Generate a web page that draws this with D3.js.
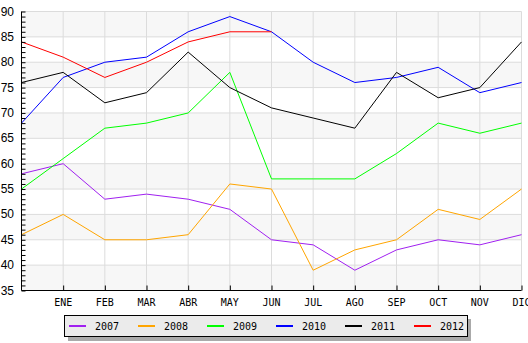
<!DOCTYPE html>
<html><head><meta charset="utf-8">
<script src="https://cdn.jsdelivr.net/npm/d3@7"></script>
<style>body{margin:0;background:#fff}svg{display:block}</style>
</head><body>
<script>
const categories = ["", "ENE","FEB","MAR","ABR","MAY","JUN","JUL","AGO","SEP","OCT","NOV","DIC"];
const years = ["2007","2008","2009","2010","2011","2012"];
const colors = ["#a020f0","#ffa500","#00ff00","#0000ff","#000000","#ff0000"];
const s2007 = [58,60,53,54,53,51,45,44,39,43,45,44,46];
const s2008 = [46,50,45,45,46,56,55,39,43,45,51,49,55];
const s2009 = [55,61,67,68,70,78,57,57,57,62,68,66,68];
const s2010 = [68,77,80,81,86,89,86,80,76,77,79,74,76];
const s2011 = [76,78,72,74,82,75,71,69,67,78,73,75,84];
const s2012 = [84,81,77,80,84,86,86,null,null,null,null,null,null];
const series = [s2007,s2008,s2009,s2010,s2011,s2012];
const yTicks = [35,40,45,50,55,60,65,70,75,80,85,90];

const W=528,H=343;
const svg=d3.select("body").append("svg").attr("width",W).attr("height",H);
const x=d3.scalePoint().domain(d3.range(categories.length)).range([21.5,521.5]);
const y=d3.scaleLinear().domain([35,90]).range([290.5,11.5]);

// bands
const g=svg.append("g");
for(let i=0;i<yTicks.length-1;i++){
  const lo=yTicks[i],hi=yTicks[i+1];
  if(i%2===0){
    g.append("rect").attr("x",21.5).attr("y",y(hi)).attr("width",500).attr("height",y(lo)-y(hi)).attr("fill","#f7f7f7");
  }
}
// gridlines
g.selectAll(".hg").data(yTicks).join("line")
 .attr("x1",21.5).attr("x2",521.5).attr("y1",d=>y(d)).attr("y2",d=>y(d))
 .attr("stroke","#dcdcdc").attr("stroke-width",1);
g.selectAll(".vg").data(d3.range(1,categories.length)).join("line")
 .attr("x1",d=>x(d)).attr("x2",d=>x(d)).attr("y1",y(90)).attr("y2",y(35))
 .attr("stroke","#dcdcdc").attr("stroke-width",1);

// lines
const line=d3.line().defined(d=>d!=null).x((d,i)=>x(i)).y(d=>y(d));
series.forEach((s,k)=>{
  svg.append("path").datum(s).attr("d",line).attr("fill","none")
   .attr("stroke",colors[k]).attr("stroke-width",1);
});

// y axis
const yAxis=d3.axisRight(y).tickValues(d3.range(35,91,1)).tickSize(4).tickFormat("");
const ya=svg.append("g").attr("transform","translate(21.5,0)").call(yAxis);
ya.select(".domain").attr("stroke","#000").attr("d","M0,"+y(90)+"V"+y(35));
ya.selectAll(".tick line").attr("stroke","#000");
svg.selectAll(".ylab").data(yTicks).join("text")
 .attr("x",14).attr("y",d=>y(d)+4).attr("text-anchor","end")
 .attr("font-family","Liberation Sans, Arial, sans-serif").attr("font-size",12)
 .text(d=>d);

// x axis
const xAxis=d3.axisTop(x).tickValues(d3.range(1,categories.length)).tickSize(5).tickFormat("");
const xa=svg.append("g").attr("transform","translate(0,290.5)").call(xAxis);
xa.select(".domain").attr("stroke","#000").attr("d","M21.5,0H521.5");
xa.selectAll(".tick line").attr("stroke","#000");
svg.selectAll(".xlab").data(d3.range(1,categories.length)).join("text")
 .attr("x",d=>x(d)).attr("y",306).attr("text-anchor","middle")
 .attr("font-family","DejaVu Sans Mono, monospace").attr("font-size",10)
 .text(d=>categories[d]);

// legend
const lg=svg.append("g");
lg.append("rect").attr("x",68).attr("y",319).attr("width",403).attr("height",22).attr("fill","#aaaaaa");
lg.append("rect").attr("x",64.5).attr("y",315.5).attr("width",403).attr("height",21).attr("fill","#ebebeb").attr("stroke","#000");
years.forEach((yr,k)=>{
  const lx=69+k*69;
  lg.append("line").attr("x1",lx).attr("x2",lx+17).attr("y1",326).attr("y2",326).attr("stroke",colors[k]).attr("stroke-width",2);
  lg.append("text").attr("x",lx+26).attr("y",330).attr("font-family","DejaVu Sans Mono, monospace").attr("font-size",10).text(yr);
});
</script>
</body></html>
